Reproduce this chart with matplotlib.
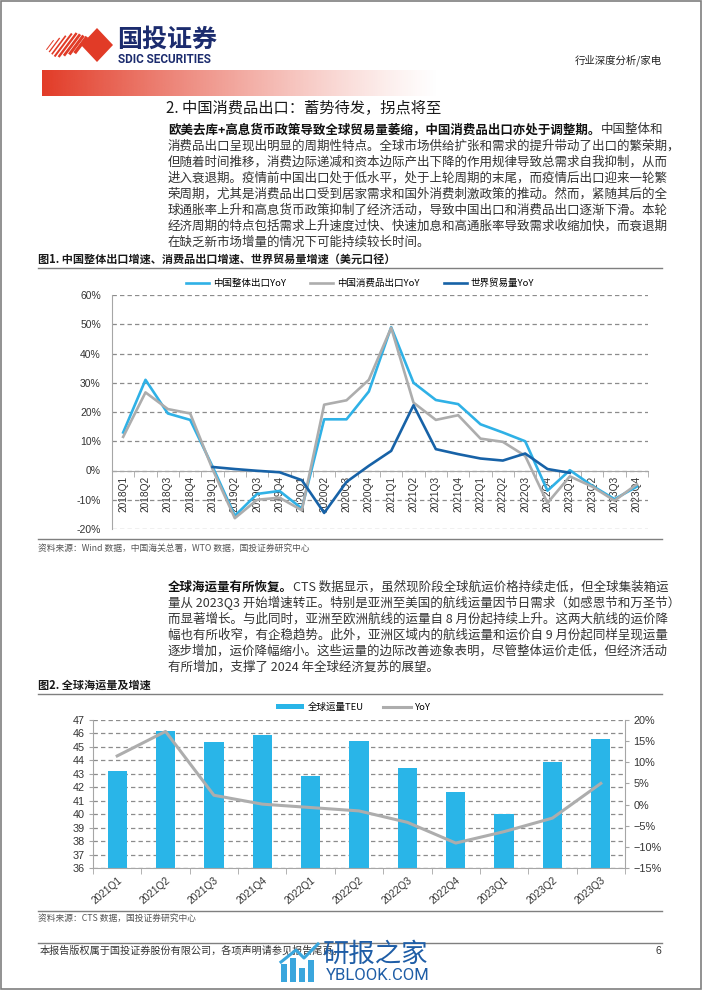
import numpy as np
import matplotlib
matplotlib.use("Agg")
import matplotlib.pyplot as plt
import matplotlib.transforms as mtransforms
from matplotlib.patches import Polygon, Rectangle
from matplotlib.ticker import FuncFormatter

plt.rcParams['font.family'] = ['Noto Sans CJK SC', 'DejaVu Sans']

# ---- data: chart 1 ----
quarters1 = ["2018Q1", "2018Q2", "2018Q3", "2018Q4", "2019Q1", "2019Q2", "2019Q3", "2019Q4",
             "2020Q1", "2020Q2", "2020Q3", "2020Q4", "2021Q1", "2021Q2", "2021Q3", "2021Q4",
             "2022Q1", "2022Q2", "2022Q3", "2022Q4", "2023Q1", "2023Q2", "2023Q3", "2023Q4"]
china_export = [13, 31, 19.5, 17.3, 1.4, -15.5, -8, -7, -13, 17.5, 17.5, 27,
                49, 30, 24.1, 22.7, 15.8, 13, 10, -6.9, 0.1, -5.2, -9.8, -5.5]
consumer_export = [11.5, 26.7, 21, 19.5, 0.5, -16.3, -10, -9.3, -13.6, 22.5, 24, 31,
                   48.8, 23.2, 17.3, 18.9, 10.9, 9.8, 5, -11.1, -2, -5.5, -10.3, -4.7]
world_trade = [np.nan, np.nan, np.nan, np.nan, 1.2, 0.5, -0.1, -0.6, -3.3, -14.5, -3.9, 1.6,
               6.7, 22.3, 7.3, 5.6, 4.1, 3.4, 5.8, 0.5, -0.8, np.nan, np.nan, np.nan]
legend1 = ["中国整体出口YoY", "中国消费品出口YoY", "世界贸易量YoY"]

# ---- data: chart 2 ----
quarters2 = ["2021Q1", "2021Q2", "2021Q3", "2021Q4", "2022Q1", "2022Q2",
             "2022Q3", "2022Q4", "2023Q1", "2023Q2", "2023Q3"]
teu = [43.2, 46.15, 45.35, 45.9, 42.85, 45.45, 43.45, 41.65, 40.0, 43.9, 45.6]
teu_yoy = [11.5, 17.3, 2.2, 0.1, -0.7, -1.5, -4.2, -9.1, -6.4, -3.2, 5.0]
legend2 = ["全球运量TEU", "YoY"]

para1 = [
    "消费品出口呈现出明显的周期性特点。全球市场供给扩张和需求的提升带动了出口的繁荣期，",
    "但随着时间推移，消费边际递减和资本边际产出下降的作用规律导致总需求自我抑制，从而",
    "进入衰退期。疫情前中国出口处于低水平，处于上轮周期的末尾，而疫情后出口迎来一轮繁",
    "荣周期，尤其是消费品出口受到居家需求和国外消费刺激政策的推动。然而，紧随其后的全",
    "球通胀率上升和高息货币政策抑制了经济活动，导致中国出口和消费品出口逐渐下滑。本轮",
    "经济周期的特点包括需求上升速度过快、快速加息和高通胀率导致需求收缩加快，而衰退期",
    "在缺乏新市场增量的情况下可能持续较长时间。",
]
para2 = [
    "量从 2023Q3 开始增速转正。特别是亚洲至美国的航线运量因节日需求（如感恩节和万圣节）",
    "而显著增长。与此同时，亚洲至欧洲航线的运量自 8 月份起持续上升。这两大航线的运价降",
    "幅也有所收窄，有企稳趋势。此外，亚洲区域内的航线运量和运价自 9 月份起同样呈现运量",
    "逐步增加，运价降幅缩小。这些运量的边际改善迹象表明，尽管整体运价走低，但经济活动",
    "有所增加，支撑了 2024 年全球经济复苏的展望。",
]

W, H = 702, 991
fig = plt.figure(figsize=(W / 100, H / 100), dpi=100)
fig.patch.set_facecolor("white")

# page layer in pixel coordinates
pax = fig.add_axes([0, 0, 1, 1], zorder=0)
pax.set_xlim(0, W)
pax.set_ylim(H, 0)
pax.axis("off")

TXT = "#333333"
RED = "#E13B27"
NAVY = "#1C2C6E"

def ptext(x, y, s, **kw):
    kw.setdefault("va", "center")
    kw.setdefault("color", TXT)
    return pax.text(x, y, s, **kw)

# page frame
pax.add_patch(Rectangle((0.8, 0.8), W - 1.6, H - 3, fill=False, ec="#7F7F7F", lw=1.2))

# logo
pax.add_patch(Polygon([(97, 28), (113, 45), (97, 62), (81, 45)], closed=True, fc=RED, ec="none"))
for i in range(8):
    cx = 50 + i * 4.4
    half = 6 + min(i, 7 - i) * 2.2 + i * 0.6
    lw = 0.7 + i * 0.25
    pax.plot([cx - half * 0.6, cx + half * 0.6], [45 + half * 0.8, 45 - half * 0.8],
             color=RED, lw=lw, solid_capstyle="butt")
ptext(117, 40, "国投证券", fontsize=18, weight="bold", color=NAVY)
ptext(118, 59.5, "SDIC SECURITIES", fontsize=8.5, weight="bold", color=NAVY, family="Roboto")
ptext(662, 60, "行业深度分析/家电", fontsize=7.5, ha="right", color="#222222")

# red gradient bar
t = np.linspace(0, 1, 400)
grad = np.zeros((1, 400, 4))
grad[0, :, 0] = 226 / 255
grad[0, :, 1] = 59 / 255
grad[0, :, 2] = 39 / 255
grad[0, :, 3] = np.clip(1 - t, 0, 1) ** 1.2
pax.imshow(grad, extent=[42, 440, 96, 70], aspect="auto", interpolation="bilinear")
pax.set_xlim(0, W)
pax.set_ylim(H, 0)

ptext(166, 108, "2. 中国消费品出口：蓄势待发，拐点将至", fontsize=11, color="#1a1a1a")

fig.canvas.draw()
renderer = fig.canvas.get_renderer()

def lead_line(y, bold_part, rest):
    b = ptext(168, y, bold_part, fontsize=9, weight="bold", color="#111111")
    bb = b.get_window_extent(renderer)
    ptext(bb.x1, y, rest, fontsize=9)

y0 = 130
lead_line(y0, "欧美去库+高息货币政策导致全球贸易量萎缩，中国消费品出口亦处于调整期。", "中国整体和")
for i, line in enumerate(para1):
    ptext(168, y0 + 16 * (i + 1), line, fontsize=9)

# chart 1 frame texts
ptext(38, 259, "图1. 中国整体出口增速、消费品出口增速、世界贸易量增速（美元口径）", fontsize=8, weight="bold", color="#1a1a1a")
pax.plot([38, 662], [268, 268], color="#7F7F7F", lw=1.0)
pax.plot([38, 662], [539, 539], color="#7F7F7F", lw=1.0)
ptext(38, 548, "资料来源：Wind 数据，中国海关总署，WTO 数据，国投证券研究中心", fontsize=6.3, color="#555555")

y1 = 587
lead_line(y1, "全球海运量有所恢复。", "CTS 数据显示，虽然现阶段全球航运价格持续走低，但全球集装箱运")
for i, line in enumerate(para2):
    ptext(168, y1 + 16 * (i + 1), line, fontsize=9)

ptext(38, 685, "图2. 全球海运量及增速", fontsize=8, weight="bold", color="#1a1a1a")
pax.plot([38, 662], [694, 694], color="#7F7F7F", lw=1.0)
pax.plot([38, 662], [911, 911], color="#7F7F7F", lw=1.0)
ptext(38, 918, "资料来源：CTS 数据，国投证券研究中心", fontsize=6.3, color="#555555")

# footer
pax.plot([38, 662], [943, 943], color="#7F7F7F", lw=1.0)
ptext(40, 951, "本报告版权属于国投证券股份有限公司，各项声明请参见报告尾页。", fontsize=7.3)
ptext(661, 951, "6", fontsize=7.5, ha="right", family="Liberation Sans")

# watermark
for k, (bx, bh) in enumerate([(281, 18), (290, 24), (299, 14), (308, 22)]):
    pax.add_patch(Rectangle((bx, 982 - bh), 6, bh, fc="#3AA6DD", ec="none", zorder=5))
pax.plot([281, 296, 304, 318], [962, 950, 958, 944], color="#3AA6DD", lw=2.2, zorder=5)
ptext(322, 954, "研报之家", fontsize=19, color="#1E5DA6", zorder=6)
ptext(326, 975, "YBLOOK.COM", fontsize=12, color="#1E5DA6", family="Roboto", zorder=6)

GRID = "#8C8C8C"
SPINE = "#A6A6A6"
TICKFONT = "Liberation Sans"

# ---- chart 1 ----
ax1 = fig.add_axes([112 / W, 1 - 529 / H, 536 / W, 234 / H], zorder=2)
ax1.set_facecolor("none")
x1 = np.arange(len(quarters1))
ax1.plot(x1, china_export, color="#2FB1E6", lw=1.9, label=legend1[0], zorder=3)
ax1.plot(x1, consumer_export, color="#ADADAD", lw=1.9, label=legend1[1], zorder=3)
ax1.plot(x1, world_trade, color="#1762A7", lw=1.9, label=legend1[2], zorder=3)
ax1.set_xlim(-0.5, len(quarters1) - 0.5)
ax1.set_ylim(-20, 60)
ax1.set_yticks(range(-20, 61, 10))
ax1.yaxis.set_major_formatter(FuncFormatter(lambda v, p: f"{int(v)}%"))
ax1.yaxis.grid(True, ls=(0, (3.5, 2.5)), color=GRID, lw=0.9, zorder=0)
ax1.set_axisbelow(True)
for s in ["top", "right"]:
    ax1.spines[s].set_visible(False)
ax1.spines["left"].set_color(SPINE)
ax1.spines["bottom"].set_color(SPINE)
ax1.spines["bottom"].set_position(("data", 0))
ax1.set_xticks(x1)
ax1.set_xticklabels(quarters1, family=TICKFONT)
ax1.set_xticks(np.arange(-0.5, len(quarters1), 1), minor=True)
ax1.tick_params(axis="x", which="major", length=0, pad=4, labelsize=7.3, labelrotation=90, colors="#333333")
ax1.tick_params(axis="x", which="minor", length=4, color=SPINE, direction="out")
ax1.tick_params(axis="y", length=0, pad=8, labelsize=7.5, colors="#333333")
for lab in ax1.get_yticklabels():
    lab.set_family(TICKFONT)
ax1.legend(loc="center", bbox_to_anchor=(0.463, 1.05), ncol=3, frameon=False, fontsize=6.8,
           handlelength=2.4, columnspacing=2.6, handletextpad=0.4)

# ---- chart 2 ----
ax2 = fig.add_axes([93 / W, 1 - 868 / H, 532 / W, 148 / H], zorder=2)
ax2.set_facecolor("none")
x2 = np.arange(len(quarters2))
ax2.bar(x2, teu, width=0.4, color="#29B5E8", label=legend2[0], zorder=2)
ax2.set_xlim(-0.5, len(quarters2) - 0.5)
ax2.set_ylim(36, 47)
ax2.set_yticks(range(36, 48))
ax2.yaxis.grid(True, ls=(0, (3.5, 2.5)), color=GRID, lw=0.9, zorder=0)
ax2.set_axisbelow(True)
ax2.spines["top"].set_visible(False)
ax2.spines["right"].set_visible(False)
ax2.spines["left"].set_color(SPINE)
ax2.spines["bottom"].set_color(SPINE)
ax2.set_xticks(x2)
ax2.set_xticklabels(quarters2, rotation=40, ha="right", rotation_mode="anchor", family=TICKFONT)
offset = mtransforms.ScaledTranslation(9 / 100, 0, fig.dpi_scale_trans)
for lab in ax2.get_xticklabels():
    lab.set_transform(lab.get_transform() + offset)
ax2.set_xticks(np.arange(-0.5, len(quarters2), 1), minor=True)
ax2.tick_params(axis="x", which="major", length=0, pad=5, labelsize=7.3, colors="#333333")
ax2.tick_params(axis="x", which="minor", length=4, color=SPINE)
ax2.tick_params(axis="y", length=3, color=SPINE, pad=3, labelsize=7.8, colors="#333333")
for lab in ax2.get_yticklabels():
    lab.set_family(TICKFONT)

ax3 = ax2.twinx()
ax3.plot(x2, teu_yoy, color="#ADADAD", lw=2.2, label=legend2[1], zorder=3)
ax3.set_ylim(-15, 20)
ax3.set_yticks(range(-15, 21, 5))
ax3.yaxis.set_major_formatter(FuncFormatter(lambda v, p: f"{int(v)}%".replace("-", "\u2212")))
for s in ["top", "left", "bottom"]:
    ax3.spines[s].set_visible(False)
ax3.spines["right"].set_color(SPINE)
ax3.tick_params(axis="y", length=3, color=SPINE, pad=3, labelsize=7.8, colors="#333333")
for lab in ax3.get_yticklabels():
    lab.set_family(TICKFONT)

h2, l2 = ax2.get_legend_handles_labels()
h3, l3 = ax3.get_legend_handles_labels()
ax3.legend(h2 + h3, l2 + l3, loc="center", bbox_to_anchor=(0.49, 1.085), ncol=2, frameon=False,
           fontsize=6.8, handlelength=3.0, handleheight=0.45, columnspacing=2.0, handletextpad=0.4)

fig.savefig("out.png", dpi=100)
